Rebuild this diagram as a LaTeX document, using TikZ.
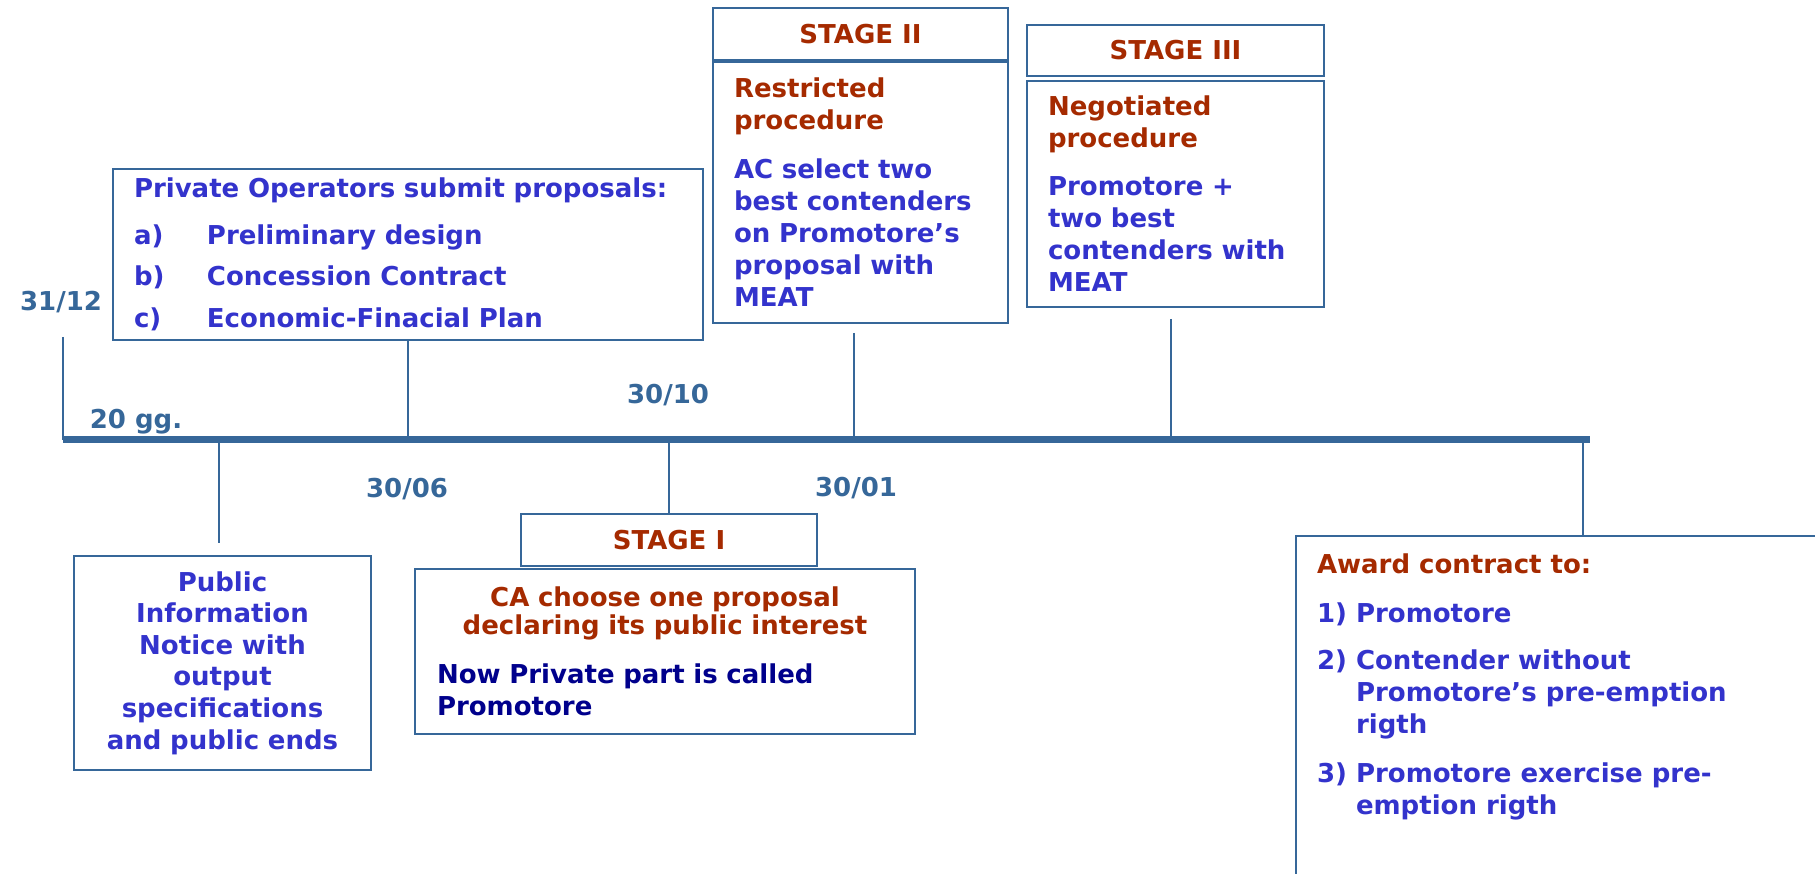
\documentclass[tikz,border=0pt]{standalone}
\usepackage{fontspec}
\setmainfont{DejaVu Sans}
\usetikzlibrary{positioning}

\definecolor{lineblue}{RGB}{54,103,153}
\definecolor{textblue}{RGB}{51,51,204}
\definecolor{stagered}{RGB}{165,42,0}
\definecolor{navyblue}{RGB}{0,0,140}

\newcommand{\itm}[1]{\makebox[73pt][l]{#1}}
\newcommand{\hng}{\hspace*{39pt}}

\begin{document}
\begin{tikzpicture}[x=1pt,y=-1pt,
  box/.style={draw=lineblue,line width=2pt,anchor=north west,inner xsep=21pt,inner ysep=0pt,
    text=textblue,font=\bfseries\fontsize{26}{32}\selectfont},
  head/.style={box,text=stagered,align=center},
  date/.style={text=lineblue,inner sep=0pt,font=\bfseries\fontsize{26}{32}\selectfont},
  tick/.style={draw=lineblue,line width=2pt},
  timeline/.style={draw=lineblue,line width=7pt}]
  \useasboundingbox (0,0) rectangle (1815,874);
  \clip (0,0) rectangle (1815,874);

  \coordinate (t0) at (63,439.5);
  \coordinate (t1) at (1590,439.5);

  \node[box,minimum width=590pt,minimum height=171pt,text width=548pt,align=left] (submit) at (112,168)
    {Private Operators submit proposals:\\[15pt]\itm{a)}Preliminary design\\[9pt]\itm{b)}Concession Contract\\[10pt]\itm{c)}Economic-Finacial Plan};

  \node[head,minimum width=295pt,minimum height=52pt] (s2head) at (712,7) {STAGE II};
  \node[box,minimum width=295pt,minimum height=261pt,text width=253pt,align=left] (s2body) [below=0pt of s2head]
    {{\color{stagered}Restricted\\procedure}\\[17pt]AC select two\\best contenders\\on Promotore’s\\proposal with\\MEAT};

  \node[head,minimum width=297pt,minimum height=51pt] (s3head) at (1026,24) {STAGE III};
  \node[box,minimum width=297pt,minimum height=226pt,text width=255pt,align=left] (s3body) [below=3pt of s3head]
    {{\color{stagered}Negotiated\\procedure}\\[16pt]Promotore +\\two best\\contenders with\\MEAT};

  \node[box,minimum width=295pt,minimum height=214pt,text width=255pt,align=center,
    font=\bfseries\fontsize{26}{31.6}\selectfont] (pubnotice) at (73,555)
    {Public\\Information\\Notice with\\output\\specifications\\and public ends};

  \node[head,minimum width=296pt,minimum height=52pt] (s1head) at (520,513) {STAGE I};
  \node[box,minimum width=500pt,minimum height=165pt,text width=456pt,inner xsep=22pt,align=left] (s1body) at (414,568)
    {\makebox[456pt]{\color{stagered}CA choose one proposal}\\[-4pt]
     \makebox[456pt]{\color{stagered}declaring its public interest}\\[17pt]
     {\color{navyblue}Now Private part is called}\\{\color{navyblue}Promotore}};

  \node[box,inner ysep=18pt] (award) at (1295,535)
    {\parbox[t][370pt][t]{520pt}{{\color{stagered}Award contract to:}\\[17pt]
     1) Promotore\\[15pt]
     2) Contender without\\\hng Promotore’s pre-emption\\\hng rigth\\[17pt]
     3) Promotore exercise pre-\\\hng emption rigth}};

  \node[date] (d3112) at (61,302) {31/12};
  \node[date] (dgg) at (136,422) {20 gg.};
  \node[date] (d3006) at (407,489) {30/06};
  \node[date] (d3010) at (668,395) {30/10};
  \node[date] (d3001) at (856,488) {30/01};

  \coordinate (c3112) at (63,337);
  \coordinate (cs2) at (854,333);
  \coordinate (cs3) at (1171,319);
  \coordinate (cpub) at (219,543);
  \coordinate (caw) at (1583,535);

  \draw[tick] (c3112) -- (c3112 |- t0);
  \draw[tick] (submit.south) -- (submit.south |- t0);
  \draw[tick] (cs2) -- (cs2 |- t0);
  \draw[tick] (cs3) -- (cs3 |- t0);
  \draw[tick] (cpub |- t0) -- (cpub);
  \draw[tick] (s1head.north |- t0) -- (s1head.north);
  \draw[tick] (caw |- t0) -- (caw);
  \draw[timeline] (t0) -- (t1);
\end{tikzpicture}
\end{document}
